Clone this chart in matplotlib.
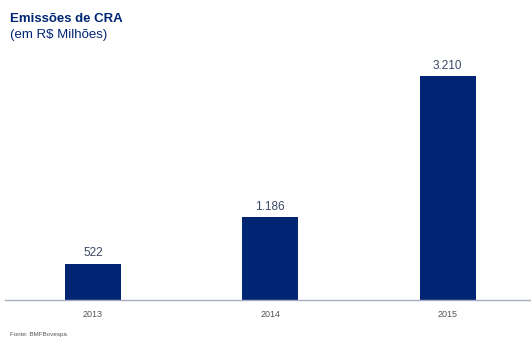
import matplotlib.pyplot as plt

plt.rcParams['font.family'] = ['Liberation Sans', 'DejaVu Sans']

anos = ['2013', '2014', '2015']
emissoes = [522, 1186, 3210]
rotulos = ['522', '1.186', '3.210']

azul = '#002673'

fig = plt.figure(figsize=(5.31, 3.38), dpi=100)
ax = fig.add_axes([0.0094, 0.1124, 0.9906, 0.7096])

x = range(len(anos))
ax.bar(x, emissoes, width=0.315, color=azul)
for xi, v, r in zip(x, emissoes, rotulos):
    ax.text(xi, v + 60, r, ha='center', va='bottom', fontsize=8.5, color='#3b4866')

ax.set_xlim(-0.496, 2.47)
ax.set_ylim(0, 3439)
ax.set_xticks(list(x))
ax.set_xticklabels(anos, fontsize=6.5, color='#555555')
ax.tick_params(axis='x', length=0, pad=7)
ax.set_yticks([])
for s in ['top', 'right', 'left']:
    ax.spines[s].set_visible(False)
ax.spines['bottom'].set_color('#a7aec4')
ax.spines['bottom'].set_linewidth(1)

fig.text(0.019, 0.945, 'Emissões de CRA', fontsize=9.5, fontweight='bold', color=azul, va='center')
fig.text(0.019, 0.895, '(em R$ Milhões)', fontsize=9.5, color=azul, va='center')
fig.text(0.019, 0.004, 'Fonte: BMFBovespa', fontsize=4.5, color='#555555', va='bottom')

fig.savefig('out.png', dpi=100)
